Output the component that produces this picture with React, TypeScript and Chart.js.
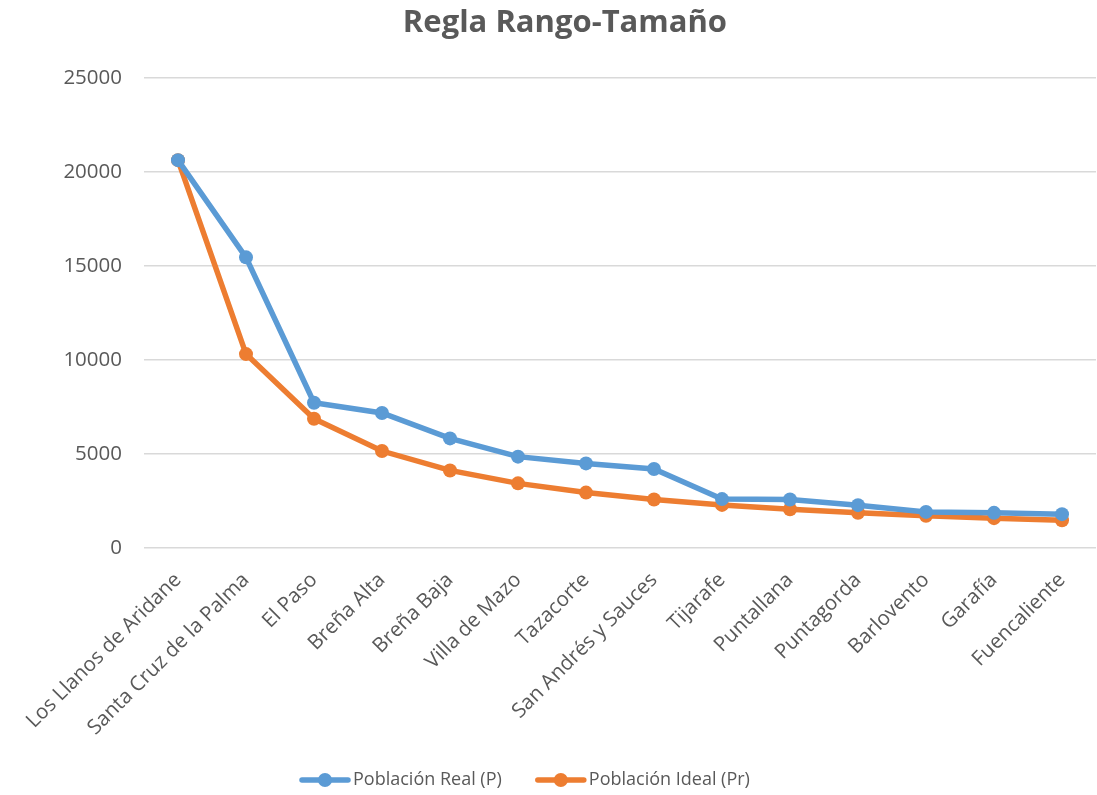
import { useEffect, useRef } from "react";
import { Chart, registerables } from "chart.js";

Chart.register(...registerables);

const categories = [
  "Los Llanos de Aridane",
  "Santa Cruz de la Palma",
  "El Paso",
  "Breña Alta",
  "Breña Baja",
  "Villa de Mazo",
  "Tazacorte",
  "San Andrés y Sauces",
  "Tijarafe",
  "Puntallana",
  "Puntagorda",
  "Barlovento",
  "Garafía",
  "Fuencaliente",
];

const realValues = [20630, 15460, 7730, 7180, 5830, 4860, 4500, 4200, 2600, 2580, 2280, 1920, 1870, 1800];
const idealValues = [20630, 10315, 6877, 5158, 4126, 3438, 2947, 2579, 2292, 2063, 1875, 1719, 1587, 1474];

const seriesNames = ["Población Real (P)", "Población Ideal (Pr)"];
const seriesColors = ["#5B9BD5", "#ED7D31"];
const titleText = "Regla Rango-Tamaño";
const yMin = 0;
const yMax = 25000;
const yStep = 5000;

const FONT = "'Open Sans', 'DejaVu Sans', sans-serif";
const TEXT = "#595959";

const titlePlugin = {
  id: "excelTitle",
  afterDraw(chart: any) {
    const ctx = chart.ctx;
    ctx.save();
    ctx.font = `bold 31px ${FONT}`;
    ctx.fillStyle = TEXT;
    ctx.textAlign = "center";
    ctx.textBaseline = "middle";
    ctx.fillText(titleText, chart.width * 0.515, 23);
    ctx.restore();
  },
};

const legendPlugin = {
  id: "excelLegend",
  afterDraw(chart: any) {
    const ctx = chart.ctx;
    ctx.save();
    ctx.font = `18px ${FONT}`;
    ctx.textBaseline = "middle";
    ctx.textAlign = "left";
    const cy = 780;
    let x = 300;
    chart.data.datasets.forEach((ds: any, i: number) => {
      const color = seriesColors[i];
      ctx.strokeStyle = color;
      ctx.fillStyle = color;
      ctx.lineWidth = 5.5;
      ctx.lineCap = "round";
      ctx.beginPath();
      ctx.moveTo(x + 2, cy);
      ctx.lineTo(x + 48, cy);
      ctx.stroke();
      ctx.beginPath();
      ctx.arc(x + 25, cy, 7, 0, Math.PI * 2);
      ctx.fill();
      ctx.fillStyle = TEXT;
      ctx.fillText(ds.label, x + 53, cy);
      x += 53 + ctx.measureText(ds.label).width + 34;
    });
    ctx.restore();
  },
};

export default function App() {
  const ref = useRef<HTMLCanvasElement>(null);
  useEffect(() => {
    const chart = new Chart(ref.current!, {
      type: "line",
      data: {
        labels: categories,
        datasets: [realValues, idealValues].map((vals, i) => ({
          label: seriesNames[i],
          data: vals,
          borderColor: seriesColors[i],
          backgroundColor: seriesColors[i],
          borderWidth: 5.5,
          pointRadius: 7,
          pointHoverRadius: 7,
          pointBorderWidth: 0,
          pointBackgroundColor: seriesColors[i],
          tension: 0,
          fill: false,
        })),
      },
      plugins: [titlePlugin, legendPlugin],
      options: {
        animation: false,
        responsive: false,
        maintainAspectRatio: false,
        layout: { autoPadding: false, padding: { left: 0, right: 1, top: 78, bottom: 60 } },
        plugins: {
          title: { display: false },
          legend: { display: false },
          tooltip: { enabled: false },
        },
        scales: {
          x: {
            offset: true,
            grid: { display: false },
            border: { display: false },
            ticks: {
              color: TEXT,
              font: { family: FONT, size: 20.5 },
              maxRotation: 45,
              minRotation: 45,
              autoSkip: false,
              padding: 12,
            },
            afterFit: (s: any) => {
              s.paddingLeft = 0;
              s.paddingRight = 0;
              s.height = 187;
            },
          },
          y: {
            min: yMin,
            max: yMax,
            grid: { color: "#D9D9D9", lineWidth: 1.5, drawTicks: false },
            border: { display: false },
            ticks: {
              stepSize: yStep,
              color: TEXT,
              font: { family: FONT, size: 20.5 },
              padding: 22,
              callback: (v: any) => String(v),
            },
            afterFit: (s: any) => {
              s.width = 144;
            },
          },
        },
      },
    });
    return () => chart.destroy();
  }, []);
  return (
    <div style={{ position: "fixed", left: 0, top: 0, width: 1097, height: 795, background: "#fff" }}>
      <canvas ref={ref} width={1097} height={795} style={{ width: 1097, height: 795, display: "block" }} />
    </div>
  );
}
